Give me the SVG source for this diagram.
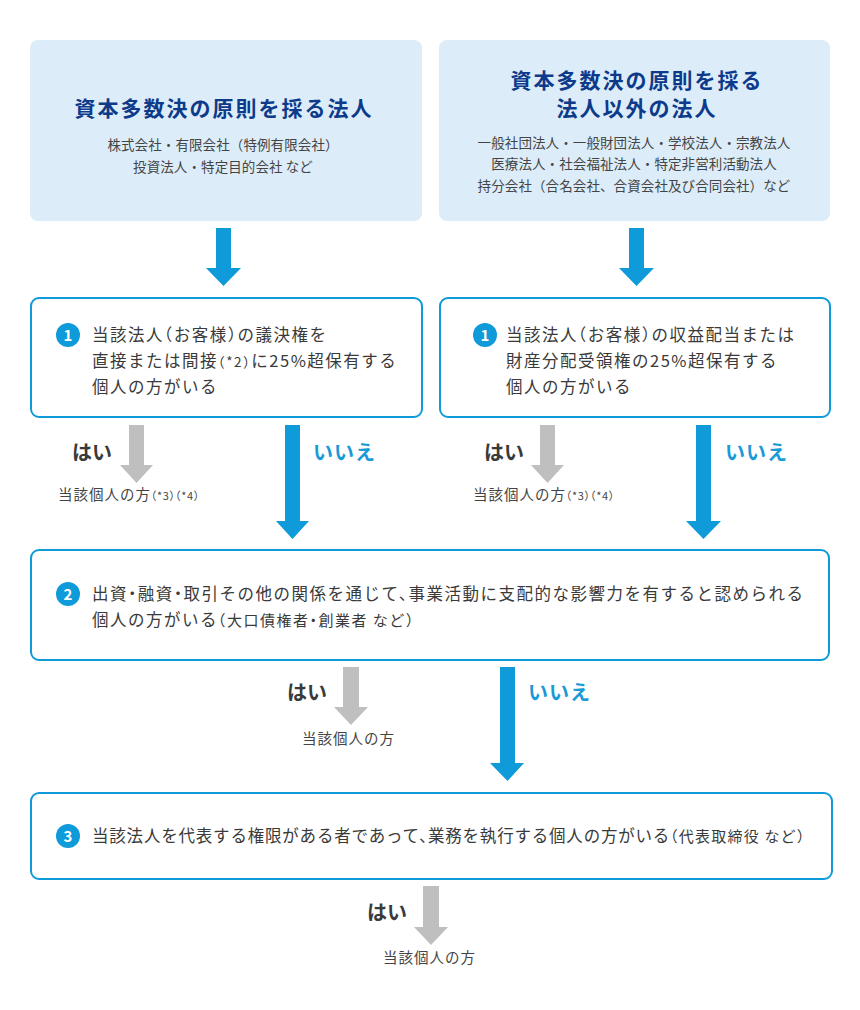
<svg xmlns="http://www.w3.org/2000/svg" width="860" height="1010" viewBox="0 0 860 1010">
<style>
text{font-family:"Noto Sans CJK JP","Noto Sans",sans-serif;}
.head{fill:#dcedf9;}
.box{fill:#fff;stroke:#0f9ad9;stroke-width:2;}
.title{font-size:21px;font-weight:bold;fill:#0d3a8a;letter-spacing:2px;text-anchor:middle;}
.sub{font-size:13.5px;fill:#444;text-anchor:middle;letter-spacing:0.1px;}
.body{font-size:16.5px;fill:#3a3a3a;letter-spacing:1.5px;font-feature-settings:"halt";}
.tight{letter-spacing:0.8px;}
.sm{font-size:15px;}
.xs{font-size:11px;}
.num{fill:#0f9ad9;}
.numt{font-size:15px;font-weight:bold;fill:#fff;text-anchor:middle;}
.yes{font-size:20px;font-weight:bold;fill:#3a3a3a;}
.no{font-size:20px;font-weight:bold;fill:#1a9ad6;letter-spacing:1px;}
.res{font-size:14.5px;fill:#444;letter-spacing:1px;font-feature-settings:"halt";}
.ab{fill:#0f9ad9;}
.ag{fill:#bfbfbf;}
</style>

<g id="node-top-left">
<rect class="head" x="30" y="40" width="392" height="181" rx="8"/>
<text class="title" x="224" y="116">資本多数決の原則を採る法人</text>
<text class="sub" x="223" y="150">株式会社・有限会社（特例有限会社）</text>
<text class="sub" x="223" y="172">投資法人・特定目的会社 など</text>
</g>

<g id="node-top-right">
<rect class="head" x="439" y="40" width="391" height="181" rx="8"/>
<text class="title" x="637" y="88">資本多数決の原則を採る</text>
<text class="title" x="637" y="116">法人以外の法人</text>
<text class="sub" x="634" y="148">一般社団法人・一般財団法人・学校法人・宗教法人</text>
<text class="sub" x="634" y="169">医療法人・社会福祉法人・特定非営利活動法人</text>
<text class="sub" x="634" y="191">持分会社（合名会社、合資会社及び合同会社）など</text>
</g>

<g id="node-q1-left">
<rect class="box" x="31" y="298" width="391" height="119" rx="8"/>
<circle class="num" cx="68" cy="335" r="12"/>
<text class="numt" x="68" y="340.5">1</text>
<text class="body" x="92" y="341">当該法人（お客様）の議決権を</text>
<text class="body" x="92" y="367">直接または間接<tspan font-size="13.5">（*2）</tspan>に25%超保有する</text>
<text class="body" x="92" y="393">個人の方がいる</text>
</g>

<g id="node-q1-right">
<rect class="box" x="440" y="298" width="390" height="119" rx="8"/>
<circle class="num" cx="485" cy="335" r="12"/>
<text class="numt" x="485" y="340.5">1</text>
<text class="body" x="506" y="341">当該法人（お客様）の収益配当または</text>
<text class="body" x="506" y="367">財産分配受領権の25%超保有する</text>
<text class="body" x="506" y="393">個人の方がいる</text>
</g>

<g id="node-q2">
<rect class="box" x="31" y="550" width="798" height="110" rx="8"/>
<circle class="num" cx="68" cy="594" r="12"/>
<text class="numt" x="68" y="599.5">2</text>
<text class="body" x="92" y="600">出資・融資・取引その他の関係を通じて、事業活動に支配的な影響力を有すると認められる</text>
<text class="body" x="92" y="626">個人の方がいる<tspan class="sm">（大口債権者・創業者 など）</tspan></text>
</g>

<g id="node-q3">
<rect class="box" x="31" y="793" width="801" height="86" rx="8"/>
<circle class="num" cx="68" cy="836" r="12"/>
<text class="numt" x="68" y="841.5">3</text>
<text class="body tight" x="92" y="842">当該法人を代表する権限がある者であって、業務を執行する個人の方がいる<tspan class="sm" letter-spacing="1.2">（代表取締役 など）</tspan></text>
</g>

<g id="node-result-1l">
<text class="res" x="58" y="500">当該個人の方<tspan class="xs" letter-spacing="0.5">（*3）（*4）</tspan></text>
</g>
<g id="node-result-1r">
<text class="res" x="473" y="500">当該個人の方<tspan class="xs" letter-spacing="0.5">（*3）（*4）</tspan></text>
</g>
<g id="node-result-2">
<text class="res" x="302" y="744">当該個人の方</text>
</g>
<g id="node-result-3">
<text class="res" x="383" y="963">当該個人の方</text>
</g>

<g id="connectors">
<polygon class="ab" points="216,228 231,228 231,268 241,268 223.5,286 206,268 216,268"/>
<polygon class="ab" points="629,228 644,228 644,268 654,268 636.5,286 619,268 629,268"/>

<polygon class="ag" points="129,425 144,425 144,465 153,465 136.5,483 120,465 129,465"/>
<text class="yes" x="72" y="460">はい</text>
<polygon class="ab" points="285,425 300,425 300,521 309,521 292.5,539 276,521 285,521"/>
<text class="no" x="313" y="460">いいえ</text>

<polygon class="ag" points="540,425 555,425 555,465 564,465 547.5,483 531,465 540,465"/>
<text class="yes" x="484" y="460">はい</text>
<polygon class="ab" points="696,425 711,425 711,521 721,521 703.5,539 686,521 696,521"/>
<text class="no" x="725" y="460">いいえ</text>

<polygon class="ag" points="343,667 359,667 359,707 368,707 351,725 334,707 343,707"/>
<text class="yes" x="287" y="700">はい</text>
<polygon class="ab" points="500,667 515,667 515,763 524,763 507.5,781 490,763 500,763"/>
<text class="no" x="528" y="700">いいえ</text>

<polygon class="ag" points="423,886 439,886 439,927 448,927 431,945 414,927 423,927"/>
<text class="yes" x="367" y="920">はい</text>
</g>
</svg>
